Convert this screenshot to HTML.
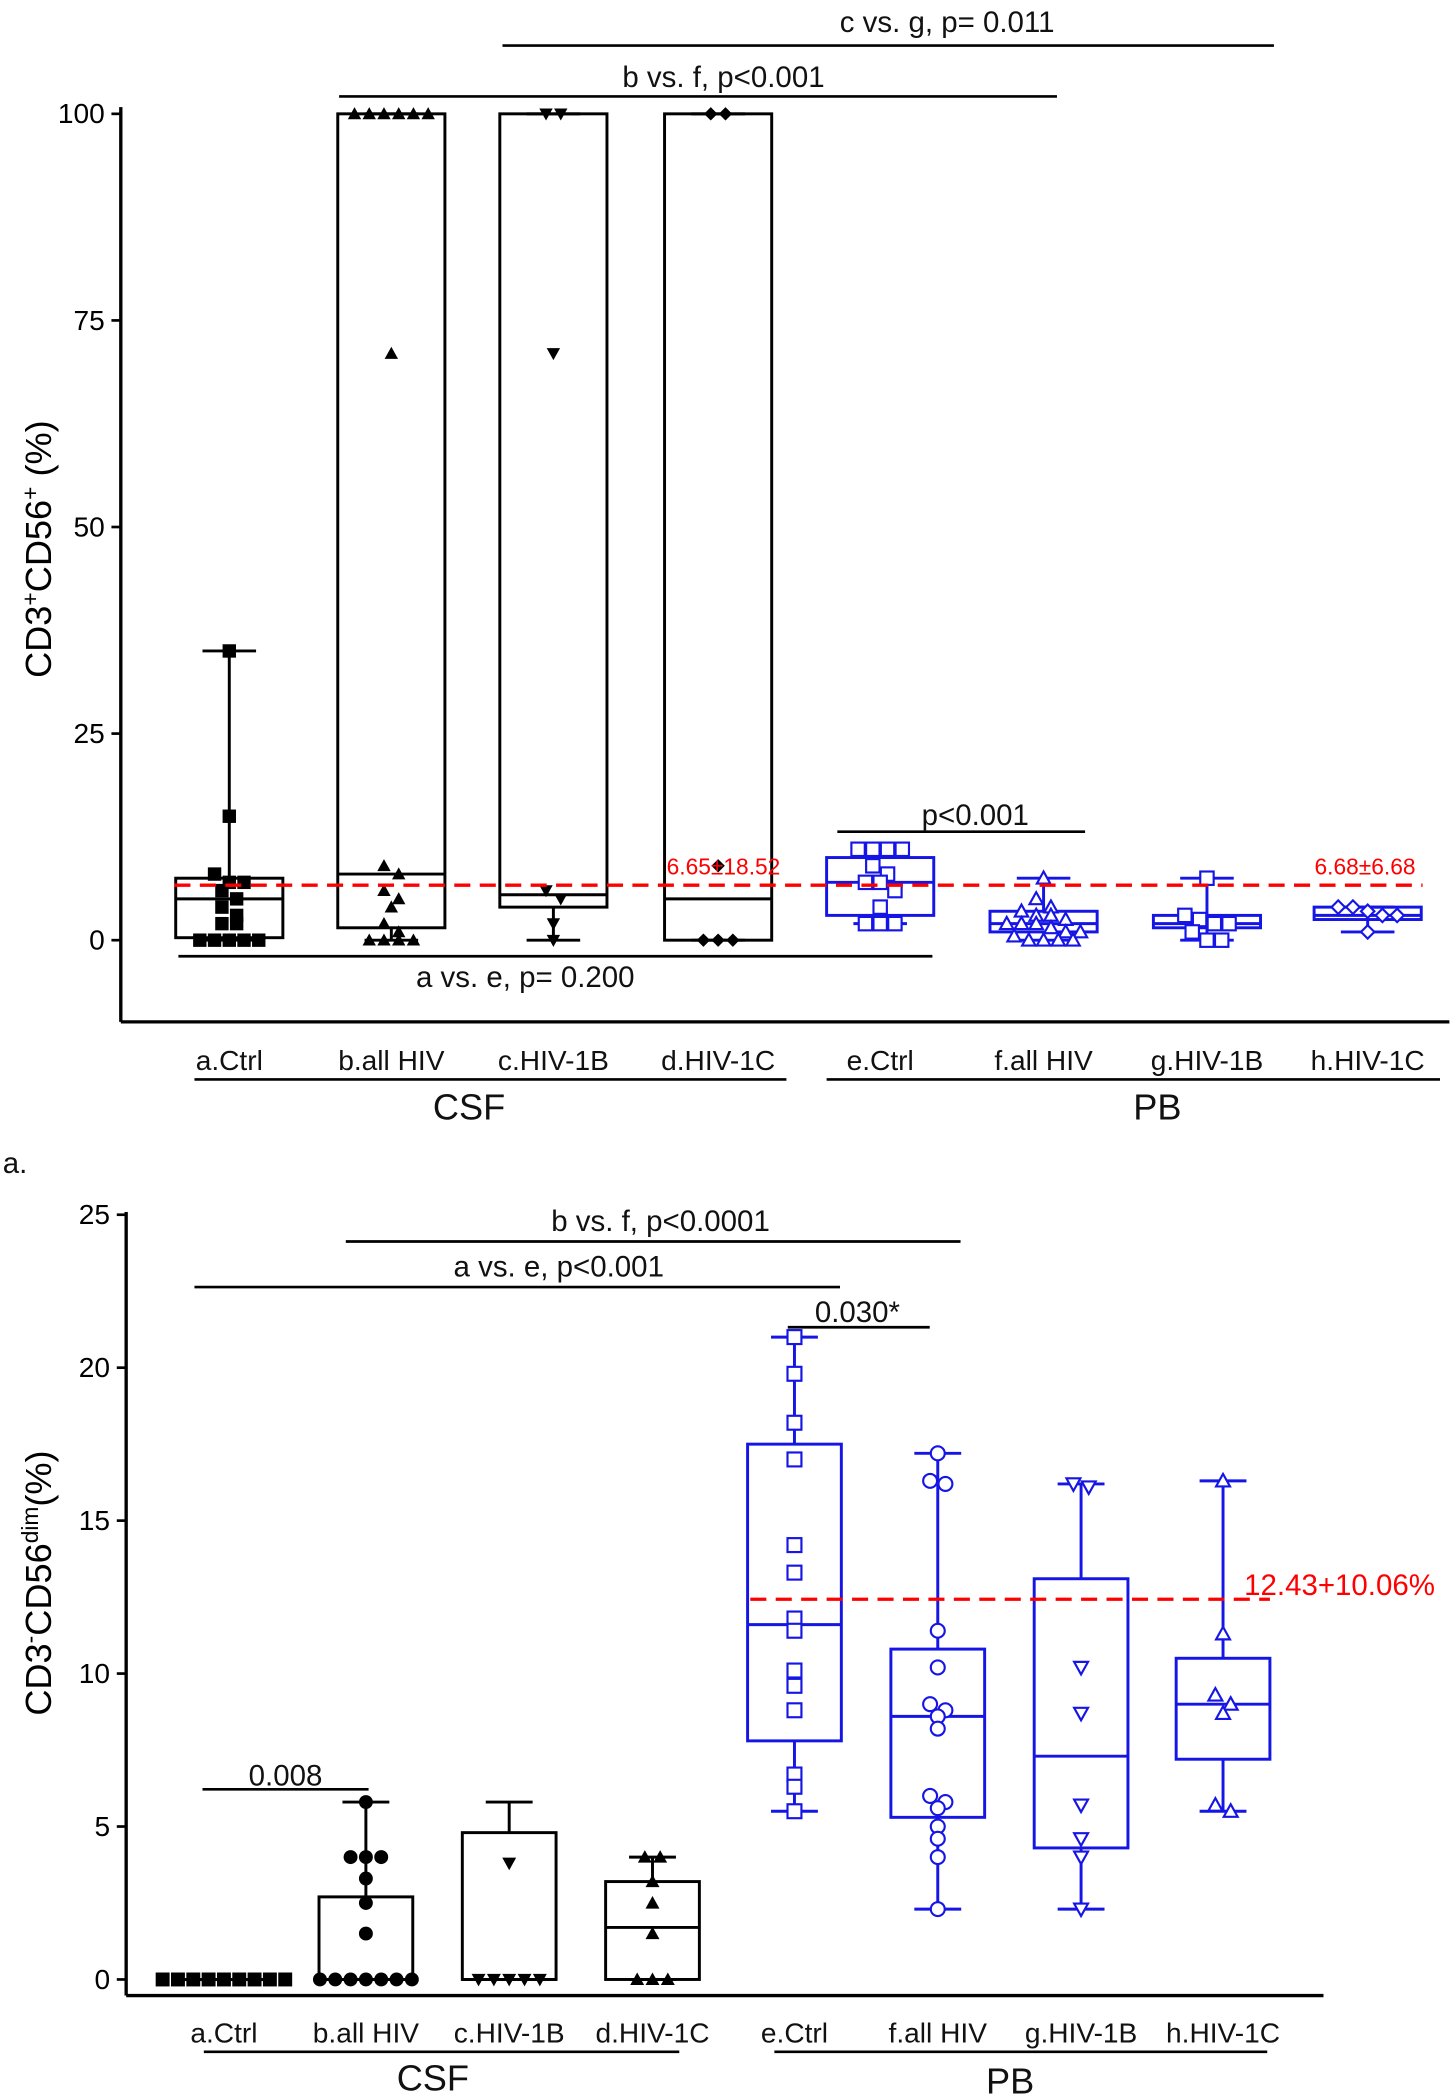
<!DOCTYPE html>
<html><head><meta charset="utf-8"><style>
html,body{margin:0;padding:0;background:#fff}
svg{display:block}
text{font-family:"Liberation Sans",Arial,sans-serif}
</style></head><body>
<svg id="s" width="1455" height="2100" viewBox="0 0 1086 1568" xmlns="http://www.w3.org/2000/svg">
<g id="top"></g>
<g id="bot"></g>
</svg>
<script>
// ---- TOP chart data
const topCats=["a.Ctrl","b.all HIV","c.HIV-1B","d.HIV-1C","e.Ctrl","f.all HIV","g.HIV-1B","h.HIV-1C"];
const topTicks=[0,25,50,75,100];
const topMin=[0,0,0,0,2,0,0,1];
const topQ1=[0.3,1.5,4,0,3,1,1.5,2.5];
const topMed=[5,8,5.5,5,7,2,2,3];
const topQ3=[7.5,100,100,100,10,3.5,3,4];
const topMax=[35,100,100,100,11,7.5,7.5,4];
const topPts=[
 [35,15,8,7,7,6,5,4,3,2,2,0,0,0,0,0],
 [100,100,100,100,100,100,71,9,8,6,5,4,2,1,0,0,0,0],
 [100,100,71,6,5,2,0],
 [100,100,9,0,0,0],
 [11,11,11,11,9,8,7,7,6,4,2,2,2],
 [7.5,5,4,3.5,3,3,2.5,2,2,2,1.5,1,1,0.5,0,0,0,0],
 [7.5,3,2.5,2,2,1,0,0],
 [4,4,3.5,3,3,1]];
const topMean=6.65;
// ---- BOTTOM chart data
const botCats=["a.Ctrl","b.all HIV","c.HIV-1B","d.HIV-1C","e.Ctrl","f.all HIV","g.HIV-1B","h.HIV-1C"];
const botTicks=[0,5,10,15,20,25];
const botMin=[0,0,0,0,5.5,2.3,2.3,5.5];
const botQ1=[0,0,0,0,7.8,5.3,4.3,7.2];
const botMed=[0,0,0,1.7,11.6,8.6,7.3,9];
const botQ3=[0,2.7,4.8,3.2,17.5,10.8,13.1,10.5];
const botMax=[0,5.8,5.8,4,21,17.2,16.2,16.3];
const botPts=[
 [0,0,0,0,0,0,0,0,0],
 [5.8,4,4,4,3.3,2.5,1.5,0,0,0,0,0,0,0],
 [3.8,0,0,0,0,0],
 [4,4,3.2,2.5,1.5,0,0,0],
 [21,19.8,18.2,17,14.2,13.3,11.8,11.4,10.1,9.6,8.8,6.7,6.3,5.5],
 [17.2,16.3,16.2,11.4,10.2,9,8.8,8.6,8.2,6,5.8,5.6,5,4.6,4,2.3],
 [16.2,16.1,10.2,8.7,5.7,4.6,4,2.3],
 [16.3,11.3,9.3,9,8.7,5.7,5.5]];
const botMean=12.43;

const NS="http://www.w3.org/2000/svg";
function mk(p,tag,a,txt){const e=document.createElementNS(NS,tag);for(const k in a)e.setAttribute(k,a[k]);if(txt!=null)e.textContent=txt;p.appendChild(e);return e;}
function marker(p,shape,x,y,col,filled,r){
 const f=filled?col:"#fff",sw=filled?0:1.6;let e;
 if(shape=="sq")e=mk(p,"rect",{x:x-r,y:y-r,width:2*r,height:2*r,fill:f,stroke:col,"stroke-width":sw});
 else if(shape=="ci")e=mk(p,"circle",{cx:x,cy:y,r:r,fill:f,stroke:col,"stroke-width":sw});
 else if(shape=="tu")e=mk(p,"polygon",{points:`${x},${y-r} ${x-r},${y+r*0.8} ${x+r},${y+r*0.8}`,fill:f,stroke:col,"stroke-width":sw});
 else if(shape=="td")e=mk(p,"polygon",{points:`${x},${y+r} ${x-r},${y-r*0.8} ${x+r},${y-r*0.8}`,fill:f,stroke:col,"stroke-width":sw});
 else e=mk(p,"polygon",{points:`${x},${y-r} ${x+r},${y} ${x},${y+r} ${x-r},${y}`,fill:f,stroke:col,"stroke-width":sw});
 
 
}
function drawPts(g,vals,cx,ys,shape,col,filled,r,sp){
 const sorted=vals.slice().sort((a,b)=>b-a);let cl=[];
 sorted.forEach(v=>{const y=ys(v);const c=cl[cl.length-1];if(c&&Math.abs(c.y0-y)<r*1.6)c.v.push(v);else cl.push({y0:y,v:[v]});});
 cl.forEach(c=>{const n=c.v.length;c.v.forEach((v,i)=>marker(g,shape,cx+(i-(n-1)/2)*sp,ys(v),col,filled,r));});
}
function chart(g,o){
 const ys=v=>o.y0+(o.y1-o.y0)*(v-o.t0)/(o.t1-o.t0);
 let ax=mk(g,"line",{x1:o.ax,y1:o.axTop,x2:o.ax,y2:o.axBot,stroke:"#000","stroke-width":2.5});
 
 let bx=mk(g,"line",{x1:o.ax,y1:o.axBot,x2:o.axRight,y2:o.axBot,stroke:"#000","stroke-width":2.5});
 
 o.ticks.forEach(t=>{
  mk(g,"line",{x1:o.ax-7,x2:o.ax,y1:ys(t),y2:ys(t),stroke:"#000","stroke-width":2});
  const tl=mk(g,"text",{x:o.ax-12,y:ys(t)+7,"text-anchor":"end","font-size":21},String(t));
  
 });
 o.cats.forEach((c,i)=>{
  const cx=o.cx[i],w=o.bw,col=i<4?"#000":"#1515e6";
  const bg=mk(g,"g",{});
  
  
  const sw=2.2;
  mk(bg,"line",{x1:cx,x2:cx,y1:ys(o.mx[i]),y2:ys(o.q3[i]),stroke:col,"stroke-width":sw});
  mk(bg,"line",{x1:cx,x2:cx,y1:ys(o.q1[i]),y2:ys(o.mn[i]),stroke:col,"stroke-width":sw});
  mk(bg,"line",{x1:cx-w*0.25,x2:cx+w*0.25,y1:ys(o.mx[i]),y2:ys(o.mx[i]),stroke:col,"stroke-width":sw});
  mk(bg,"line",{x1:cx-w*0.25,x2:cx+w*0.25,y1:ys(o.mn[i]),y2:ys(o.mn[i]),stroke:col,"stroke-width":sw});
  mk(bg,"rect",{x:cx-w/2,y:ys(o.q3[i]),width:w,height:Math.max(ys(o.q1[i])-ys(o.q3[i]),0.1),fill:"none",stroke:col,"stroke-width":sw});
  mk(bg,"line",{x1:cx-w/2,x2:cx+w/2,y1:ys(o.md[i]),y2:ys(o.md[i]),stroke:col,"stroke-width":sw});
  drawPts(bg,o.pts[i],cx,ys,o.shapes[i],col,i<4,o.r,o.r*2.2);
  const xl=mk(g,"text",{x:cx,y:o.labY,"text-anchor":"middle","font-size":21,fill:"#111"},c);
  
 });
 const ml=mk(g,"line",{x1:o.meanX[0],x2:o.meanX[1],y1:ys(o.mean),y2:ys(o.mean),stroke:"#ff0000","stroke-width":2.5,"stroke-dasharray":"12,7"});
 
 return ys;
}
function ann(g,x1,x2,y,tx,ty,txt,name,size,col){
 const a=mk(g,"g",{});
 if(x1!=null)mk(a,"line",{x1:x1,x2:x2,y1:y,y2:y,stroke:"#000","stroke-width":2});
 mk(a,"text",{x:tx,y:ty,"text-anchor":"middle","font-size":size||22,fill:col||"#111"},txt);
}
const T=document.getElementById("top"),B=document.getElementById("bot");
chart(T,{cats:topCats,ticks:topTicks,t0:0,t1:100,y0:702,y1:85,ax:90,axTop:80,axBot:763,axRight:1082,
 cx:[171,292,413,536,657,779,901,1021],bw:80,mn:topMin,q1:topQ1,md:topMed,q3:topQ3,mx:topMax,pts:topPts,
 shapes:["sq","tu","td","di","sq","tu","sq","di"],r:5,labY:799,mean:topMean,meanX:[130,1062]});
ann(T,375,951,34,707,24,"c vs. g, p= 0.011","annotation-c-vs-g");
ann(T,253,789,72,540,65,"b vs. f, p<0.001","annotation-b-vs-f");
ann(T,133,696,714,392,737,"a vs. e, p= 0.200","annotation-a-vs-e");
ann(T,625,810,621,728,616,"p<0.001","annotation-e-vs-f");
ann(T,null,0,0,540,653,"6.65±18.52","mean-label-csf",17,"#ff0000");
ann(T,null,0,0,1019,653,"6.68±6.68","mean-label-pb",17,"#ff0000");
ann(T,145,587,806,350,836,"CSF","group-csf",27);
ann(T,617,1075,806,864,836,"PB","group-pb",27);
let yt=mk(T,"text",{x:0,y:0,transform:"translate(38,410) rotate(-90)","text-anchor":"middle","font-size":27},"");
yt.innerHTML='CD3<tspan dy="-10" font-size="17">+</tspan><tspan dy="10">CD56</tspan><tspan dy="-10" font-size="17">+</tspan><tspan dy="10"> (%)</tspan>';

ann(T,null,0,0,11,876,"a.","panel-label-a",22);
chart(B,{cats:botCats,ticks:botTicks,t0:0,t1:25,y0:1478,y1:907,ax:94,axTop:905,axBot:1490,axRight:988,
 cx:[167,273,380,487,593,700,807,913],bw:70,mn:botMin,q1:botQ1,md:botMed,q3:botQ3,mx:botMax,pts:botPts,
 shapes:["sq","ci","td","tu","sq","ci","td","tu"],r:5.2,labY:1525,mean:botMean,meanX:[560,948]});
ann(B,258,717,927,493,919,"b vs. f, p<0.0001","annotation-b-vs-f-2");
ann(B,145,627,961,417,953,"a vs. e, p<0.001","annotation-a-vs-e-2");
ann(B,588,694,991,640,987,"0.030*","annotation-e-vs-f-2");
ann(B,151,275,1336,213,1333,"0.008","annotation-a-vs-b");
ann(B,null,0,0,1000,1191,"12.43+10.06%","mean-label-bottom",22,"#ff0000");
ann(B,152,507,1532,323,1561,"CSF","group-csf-2",27);
ann(B,578,946,1532,754,1563,"PB","group-pb-2",27);
let yt2=mk(B,"text",{x:0,y:0,transform:"translate(38,1182) rotate(-90)","text-anchor":"middle","font-size":27},"");
yt2.innerHTML='CD3<tspan dy="-10" font-size="17">-</tspan><tspan dy="10">CD56</tspan><tspan dy="-10" font-size="17">dim</tspan><tspan dy="10">(%)</tspan>';

</script>
</body></html>
